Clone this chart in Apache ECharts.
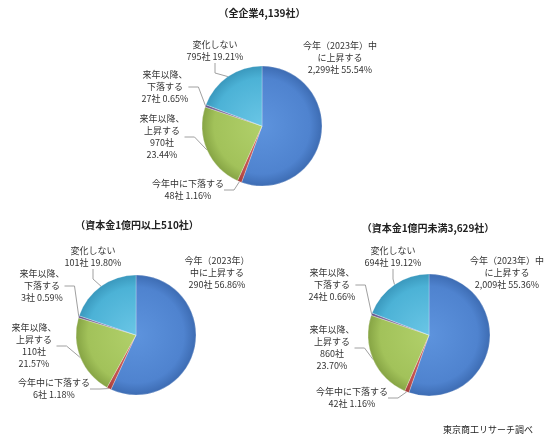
<!DOCTYPE html>
<html>
<head>
<meta charset="utf-8">
<script src="https://cdn.jsdelivr.net/npm/echarts@6/dist/echarts.min.js"></script>
<style>
  html, body { margin: 0; padding: 0; background: #fff; }
  #chart { width: 550px; height: 446px; }
</style>
</head>
<body>
<div id="chart"></div>
<script>
// slice order: clockwise from 12 o'clock
const categories = ['今年（2023年）中に上昇する', '今年中に下落する', '来年以降、上昇する', '来年以降、下落する', '変化しない'];

const allCounts = [2299, 48, 970, 27, 795];
const allPercents = [55.54, 1.16, 23.44, 0.65, 19.21];

const largeCounts = [290, 6, 110, 3, 101];
const largePercents = [56.86, 1.18, 21.57, 0.59, 19.80];

const smallCounts = [2009, 42, 860, 24, 694];
const smallPercents = [55.36, 1.16, 23.70, 0.66, 19.12];

const pieTitles = ['（全企業4,139社）', '（資本金1億円以上510社）', '（資本金1億円未満3,629社）'];
const sourceNote = '東京商工リサーチ調べ';

const FONT = '"Noto Sans CJK JP", "Noto Sans", sans-serif';

// label names with the line breaks used in the picture
const namesA = ['今年（2023年）中\nに上昇する', '今年中に下落する', '来年以降、\n上昇する', '来年以降、\n下落する', '変化しない'];
const namesB = ['今年（2023年）\n中に上昇する', '今年中に下落する', '来年以降、\n上昇する', '来年以降、\n下落する', '変化しない'];

const palette = [
    ['#5d93dd', '#4f83cf', '#3d6cb3'],
    ['#d06461', '#c0504d', '#a63f3c'],
    ['#b1d06a', '#a2c25a', '#86a444'],
    ['#8f7cae', '#7f6b9e', '#66558a'],
    ['#6ac6e6', '#4cb2d6', '#3a98bd']
];

function labelText(names, counts, percents, i) {
    const c = counts[i].toLocaleString('en-US') + '社';
    const p = percents[i].toFixed(2) + '%';
    if (i === 2) return names[i] + '\n' + c + '\n' + p;
    return names[i] + '\n' + c + ' ' + p;
}

function buildSeries(names, counts, percents, center, radius, labelPos) {
    return {
        type: 'pie',
        center: center,
        radius: radius,
        startAngle: 90,
        clockwise: true,
        avoidLabelOverlap: false,
        silent: true,
        label: {
            show: true,
            position: 'outside',
            fontFamily: FONT,
            fontSize: 9,
            lineHeight: 12,
            color: '#333',
            align: 'center',
            formatter: function (params) {
                return labelText(names, counts, percents, params.dataIndex);
            }
        },
        labelLine: {
            show: true,
            length: 10,
            length2: 10,
            lineStyle: { color: '#a0a0a0', width: 1 }
        },
        labelLayout: function (params) {
            const p = labelPos[params.dataIndex];
            return { x: p[0], y: p[1], align: 'center', verticalAlign: 'middle' };
        },
        itemStyle: {
            borderColor: 'rgba(255,255,255,0.5)',
            borderWidth: 0.5
        },
        data: counts.map(function (v, i) {
            return {
                name: categories[i],
                value: v,
                labelLine: { show: i !== 0 },
                itemStyle: {
                    color: new echarts.graphic.RadialGradient(center[0], center[1], radius, [
                        { offset: 0, color: palette[i][0] },
                        { offset: 0.8, color: palette[i][1] },
                        { offset: 1, color: palette[i][2] }
                    ], true)
                }
            };
        })
    };
}

const chart = echarts.init(document.getElementById('chart'));

const option = {
    animation: false,
    backgroundColor: '#fff',
    graphic: [
        { type: 'text', x: 262, y: 13, style: { text: pieTitles[0], font: 'bold 10px ' + FONT, fill: '#222', align: 'center', verticalAlign: 'middle' } },
        { type: 'text', x: 137, y: 225, style: { text: pieTitles[1], font: 'bold 10px ' + FONT, fill: '#222', align: 'center', verticalAlign: 'middle' } },
        { type: 'text', x: 428, y: 228, style: { text: pieTitles[2], font: 'bold 10px ' + FONT, fill: '#222', align: 'center', verticalAlign: 'middle' } },
        { type: 'text', x: 488, y: 430, style: { text: sourceNote, font: '9px ' + FONT, fill: '#222', align: 'center', verticalAlign: 'middle' } }
    ],
    series: [
        buildSeries(namesA, allCounts, allPercents, [262, 126], 60,
            [[340, 58], [188, 190], [162, 137], [165, 87], [215, 51]]),
        buildSeries(namesB, largeCounts, largePercents, [136, 335], 60,
            [[217, 273], [54, 389], [34, 346], [42, 286], [93, 257]]),
        buildSeries(namesA, smallCounts, smallPercents, [429, 335], 61,
            [[507, 273], [352, 398], [332, 348], [332, 285], [393, 257]])
    ]
};

chart.setOption(option);
</script>
</body>
</html>
